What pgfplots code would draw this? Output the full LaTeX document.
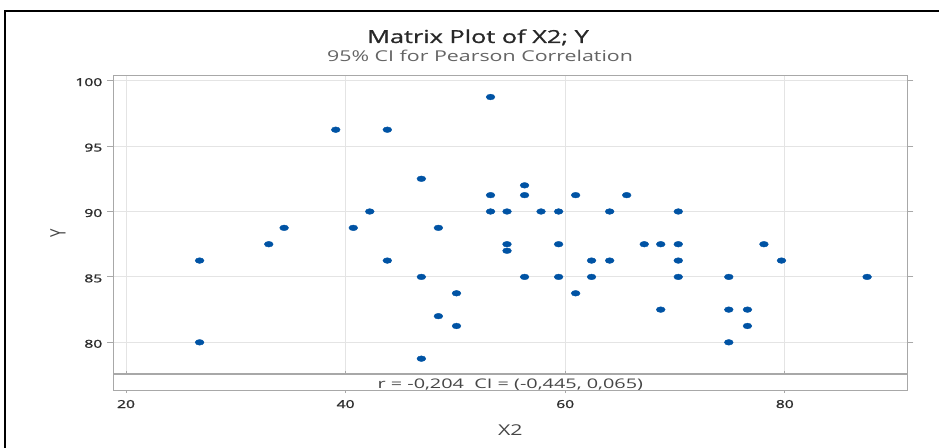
\documentclass[border=0pt]{standalone}
\usepackage{fontspec}
\setmainfont{Open Sans}
\newfontfamily\semib[FakeBold=0.8]{Open Sans}
\newfontfamily\tickf[FakeBold=1.4]{Open Sans}
\usepackage{pgfplots}
\pgfplotsset{compat=1.18}
\definecolor{mblue}{RGB}{0,83,164}
\definecolor{framegray}{RGB}{168,168,168}
\definecolor{gridgray}{RGB}{228,228,228}
\definecolor{titlegray}{RGB}{40,40,40}
\definecolor{subgray}{RGB}{100,100,100}
\definecolor{tickgray}{RGB}{45,45,45}
\definecolor{labgray}{RGB}{70,70,70}

\pgfplotstableread{
x y
26.7 86.25
26.7 80
33.0 87.5
34.4 88.75
39.1 96.25
40.7 88.75
42.2 90
43.8 96.25
43.8 86.25
46.9 92.5
46.9 85
46.9 78.75
48.45 88.75
48.45 82
50.1 83.75
50.1 81.25
53.2 98.75
53.2 91.25
53.2 90
54.7 90
54.7 87.5
54.7 87.0
56.3 92
56.3 91.25
56.3 85
57.8 90
59.4 90
59.4 87.5
59.4 85
60.95 91.25
60.95 83.75
62.4 86.25
62.4 85
64.05 90
64.05 86.25
65.6 91.25
67.2 87.5
68.7 87.5
68.7 82.5
70.3 90
70.3 87.5
70.3 86.25
70.3 85
74.9 85
74.9 82.5
74.9 80
76.6 82.5
76.6 81.25
78.1 87.5
79.7 86.25
87.5 85
}\datatable

\begin{document}
\begin{tikzpicture}
\useasboundingbox (0,0) rectangle (939bp,448bp);
\draw[black, line width=1.5bp] (5bp,0) -- (5bp,437bp) -- (940bp,437bp);
\node[anchor=base, text=titlegray, font=\semib\fontsize{18}{18}\selectfont, xscale=1.41] at (478bp,405bp) {Matrix Plot of X2; Y};
\node[anchor=base, text=subgray, font=\fontsize{15}{15}\selectfont, xscale=1.43] at (480bp,386.5bp) {95\% CI for Pearson Correlation};
\begin{axis}[
  at={(113.3bp,372.7bp)}, anchor=north west,
  width=794bp, height=298.7bp, scale only axis,
  xmin=18.84, xmax=91.16, ymin=77.58, ymax=100.41,
  xtick={20,40,60,80}, ytick={80,85,90,95,100},
  xticklabels={},
  x tick style={draw=none},
  y tick style={framegray, line width=0.9bp},
  tick align=outside, major tick length=6bp,
  axis line style={framegray, line width=1bp},
  grid=major, major grid style={gridgray, line width=0.9bp},
  /pgf/number format/assume math mode=true,
  yticklabel style={font=\tickf\fontsize{11}{11}\selectfont, text=tickgray, xscale=1.43, inner sep=0pt, xshift=-3.3bp, yshift=-1.5bp},
  ylabel={Y},
  ylabel style={at={(axis description cs:-0.0696,0.472)}, anchor=center, font=\fontsize{15}{15}\selectfont, text=labgray, yscale=1.43},
  clip=false,
]
\addplot[only marks, mark=*, color=mblue, mark size=2.85bp, mark options={xscale=1.55, fill=mblue, draw=mblue}] table[x=x, y=y] {\datatable};
\end{axis}
\begin{axis}[
  at={(113.3bp,74bp)}, anchor=north west,
  width=794bp, height=16bp, scale only axis,
  xmin=18.84, xmax=91.16, ymin=0, ymax=1,
  xtick={20,40,60,80}, ytick=\empty,
  tick align=outside, major tick length=3bp,
  x tick style={framegray, line width=0.9bp},
  axis line style={framegray, line width=1bp},
  /pgf/number format/assume math mode=true,
  xticklabel style={font=\tickf\fontsize{11}{11}\selectfont, text=tickgray, xscale=1.43, anchor=base, yshift=-15bp},
  xlabel={X2},
  xlabel style={at={(axis description cs:0.5,-2.5)}, anchor=center, font=\fontsize{15}{15}\selectfont, text=labgray, xscale=1.43},
]
\node[anchor=base, font=\fontsize{13.3}{13.3}\selectfont, text=labgray, xscale=1.5] at (axis description cs:0.5,0.1) {r = -0,204\ \ CI = (-0,445, 0,065)};
\end{axis}
\end{tikzpicture}
\end{document}
